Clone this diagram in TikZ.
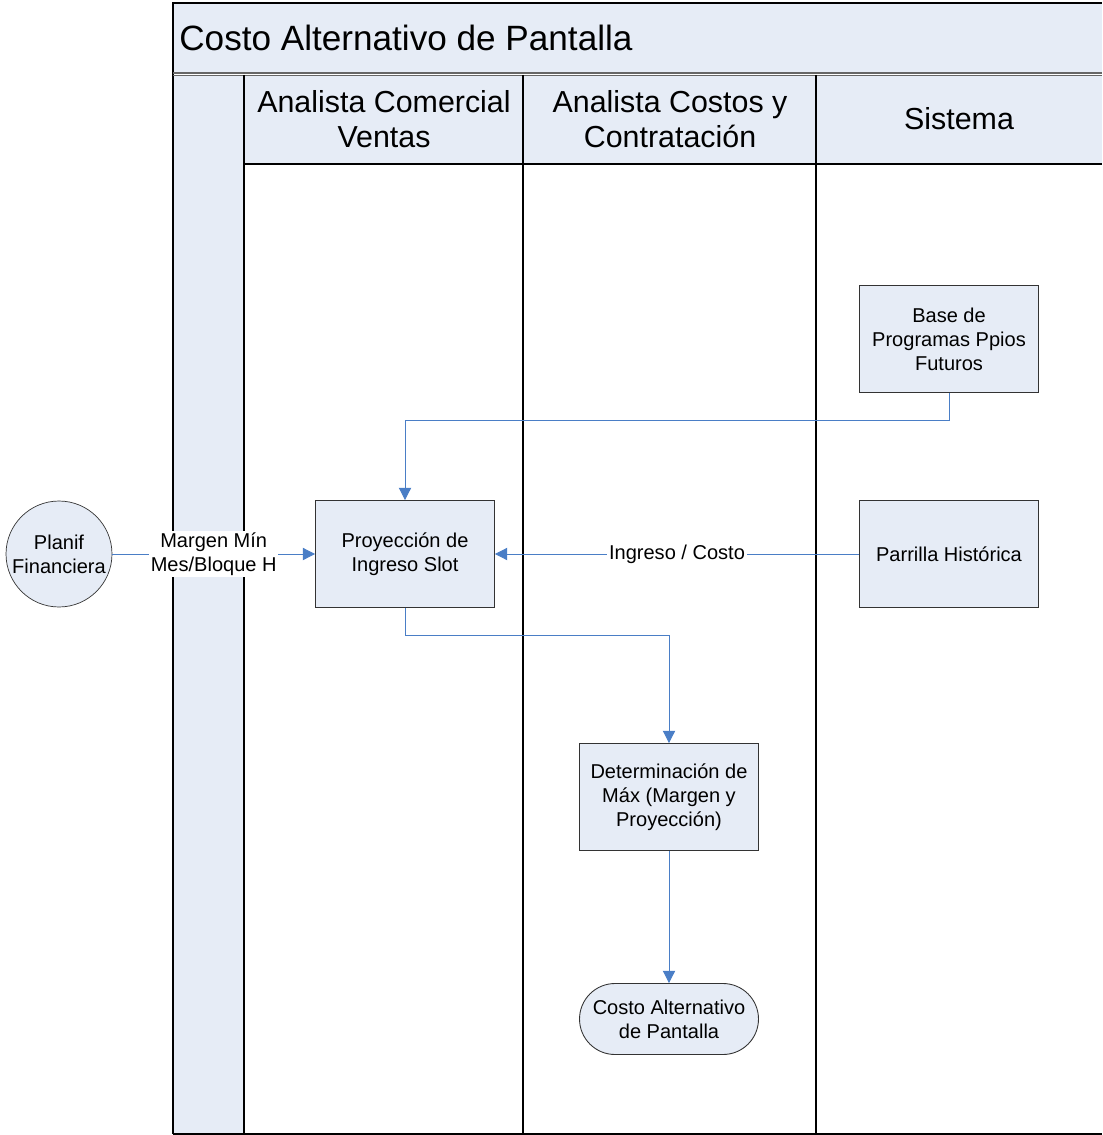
\documentclass[tikz,border=0pt]{standalone}
\usepackage{fontspec}
\setmainfont{Liberation Sans}
\usetikzlibrary{arrows.meta,positioning}
\definecolor{lanefill}{HTML}{E6ECF6}
\definecolor{flowblue}{HTML}{4A7EC6}
\tikzset{%
  >={Triangle[length=7pt,width=7pt]}, % default arrow style
  lane/.style={draw=black,line width=0.6pt},%
  process/.style={draw=black!80,fill=lanefill,line width=0.5pt,
    minimum width=3.58cm,minimum height=2.14cm,align=center,
    font=\fontsize{11.4}{13.6}\selectfont},%
  terminal/.style={process,minimum height=1.42cm,rounded corners=0.71cm},%
  ext/.style={draw=black!80,fill=lanefill,circle,minimum size=2.12cm,
    align=center,inner sep=0pt,font=\fontsize{11.4}{13.6}\selectfont},%
  flow/.style={->,draw=flowblue,line width=0.5pt},%
  flowlabel/.style={fill=white,inner sep=1pt,align=center,
    font=\fontsize{11.4}{13.6}\selectfont},%
  header/.style={align=center,font=\fontsize{17.3}{20}\selectfont}%
}
\begin{document}
\begin{tikzpicture}[x=0.02cm,y=-0.02cm]
  \useasboundingbox (0,0) rectangle (1102,1135);
  % pool
  \fill[lanefill] (173,3) rectangle (1102,73);
  \fill[lanefill] (173,75) rectangle (244,1134);
  \fill[lanefill] (244,75) rectangle (1102,164);
  \draw[lane] (173,1134) -- (173,3) -- (1102,3);
  \draw[black!60,line width=0.8pt] (173,73) -- (1102,73);
  \draw[black!60,line width=0.8pt] (173,75.5) -- (1102,75.5);
  \draw[lane] (173,1134) -- (1102,1134);
  \node[anchor=west,inner sep=0pt,font=\fontsize{20}{24}\selectfont] (title) at (179,38) {Costo Alternativo de Pantalla};
  % lanes
  \draw[lane] (244,75) -- (244,1134);
  \draw[lane] (523,75) -- (523,1134);
  \draw[lane] (816,75) -- (816,1134);
  \draw[lane] (244,164) -- (1102,164);
  \node[header] (ventas) at (384,119) {Analista Comercial\\Ventas};
  \node[header] (costos) at (670,119) {Analista Costos y\\Contratación};
  \node[header] (sistema) at (959,119) {Sistema};
  % steps
  \node[ext] (planif) at (59,554) {Planif\\Financiera};
  \node[process] (proy) at (405,554) {Proyección de\\Ingreso Slot};
  \node[process] (base) at (949,339) {Base de\\Programas Ppios\\Futuros};
  \node[process] (parrilla) at (949,554) {Parrilla Histórica};
  \node[process] (maxim) at (669,797) {Determinación de\\Máx (Margen y\\Proyección)};
  \node[terminal] (costo) at (669,1019) {Costo Alternativo\\de Pantalla};
  % flows
  \draw[flow] (planif) -- node[flowlabel] {Margen Mín\\Mes/Bloque H} (proy);
  \draw[flow] (parrilla) -- node[flowlabel] {Ingreso / Costo} (proy);
  \draw[flow] (base.south) |- (405,420) -- (proy.north);
  \draw[flow] (proy.south) |- (669,635) -- (maxim.north);
  \draw[flow] (maxim) -- (costo);
\end{tikzpicture}
\end{document}
